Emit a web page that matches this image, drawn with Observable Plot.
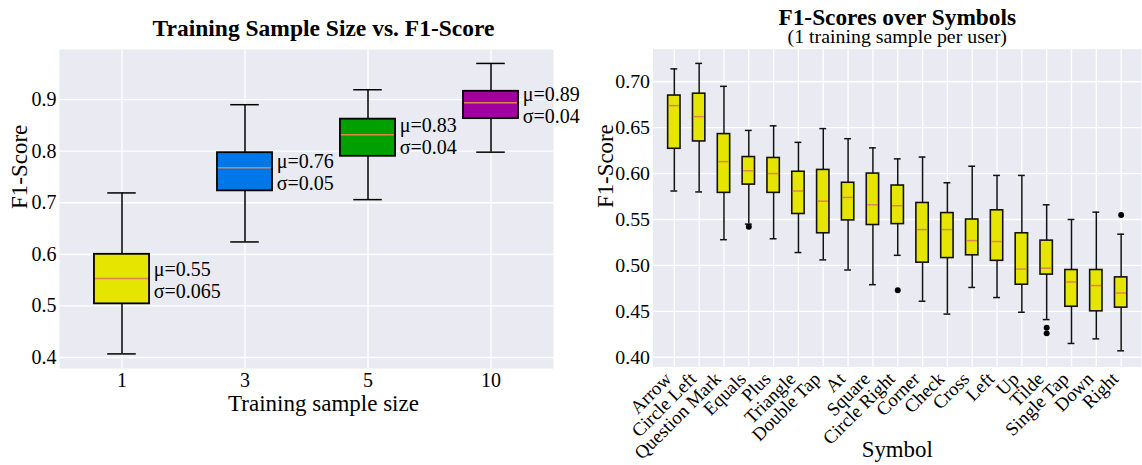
<!DOCTYPE html>
<html><head><meta charset="utf-8">
<script src="https://cdn.jsdelivr.net/npm/d3@7"></script>
<script src="https://cdn.jsdelivr.net/npm/@observablehq/plot@0.6"></script>
<style>
html,body{margin:0;padding:0;background:#fff;overflow:hidden;width:1142px;height:465px;}
#left{position:absolute;left:0;top:0;}
#right{position:absolute;left:580px;top:0;}
svg{overflow:visible;}
</style></head><body>
<div id="left"></div><div id="right"></div>
<script>
// ---------- Left chart data ----------
const sizes = ["1", "3", "5", "10"];
const sizeLow  = [0.407, 0.624, 0.706, 0.798];
const sizeQ1   = [0.504, 0.723, 0.790, 0.863];
const sizeMed  = [0.553, 0.768, 0.832, 0.894];
const sizeQ3   = [0.600, 0.797, 0.862, 0.916];
const sizeHigh = [0.719, 0.890, 0.919, 0.970];
const sizeMean = [0.55, 0.76, 0.83, 0.89];
const sizeStd  = [0.065, 0.05, 0.04, 0.04];
const sizeColors = ["#e5e500", "#0077e6", "#00a000", "#a000a0"];
const leftYTicks = [0.4, 0.5, 0.6, 0.7, 0.8, 0.9];

// ---------- Right chart data ----------
const symbols = ["Arrow", "Circle Left", "Question Mark", "Equals", "Plus", "Triangle", "Double Tap", "At", "Square", "Circle Right", "Corner", "Check", "Cross", "Left", "Up", "Tilde", "Single Tap", "Down", "Right"];
const symLow  = [0.581, 0.580, 0.528, 0.545, 0.529, 0.514, 0.506, 0.495, 0.479, 0.511, 0.461, 0.447, 0.476, 0.465, 0.449, 0.441, 0.415, 0.420, 0.407];
const symQ1   = [0.627, 0.635, 0.579, 0.588, 0.579, 0.556, 0.535, 0.549, 0.544, 0.545, 0.503, 0.508, 0.511, 0.505, 0.479, 0.490, 0.455, 0.450, 0.454];
const symMed  = [0.674, 0.662, 0.613, 0.603, 0.600, 0.581, 0.570, 0.574, 0.566, 0.565, 0.539, 0.539, 0.527, 0.526, 0.496, 0.497, 0.482, 0.478, 0.470];
const symQ3   = [0.685, 0.687, 0.643, 0.618, 0.617, 0.602, 0.604, 0.590, 0.600, 0.587, 0.568, 0.557, 0.550, 0.560, 0.535, 0.527, 0.495, 0.495, 0.487];
const symHigh = [0.714, 0.720, 0.695, 0.647, 0.652, 0.634, 0.649, 0.638, 0.628, 0.616, 0.618, 0.590, 0.608, 0.598, 0.598, 0.566, 0.550, 0.558, 0.534];
const outlierSymbols = ["Equals", "Circle Right", "Tilde", "Tilde", "Right"];
const outlierValues  = [0.542, 0.473, 0.432, 0.426, 0.555];
const rightYTicks = [0.40, 0.45, 0.50, 0.55, 0.60, 0.65, 0.70];

// ---------- Styling ----------
const FONT = '"Liberation Serif", "Times New Roman", Times, serif';
const BG = "#eaeaf2";
const MEDIAN = "#dd8452";
const GRID = {stroke: "white", strokeOpacity: 1, strokeWidth: 1.3};

// ---------- Left chart ----------
const sizeData = sizes.map((s, i) => ({
  size: s, low: sizeLow[i], q1: sizeQ1[i], med: sizeMed[i], q3: sizeQ3[i], high: sizeHigh[i],
  mean: sizeMean[i], std: sizeStd[i], color: sizeColors[i]
}));
const LW = 580, LH = 465, LM = {top: 49, right: 27, bottom: 97, left: 59};
const lBand = (LW - LM.left - LM.right) / sizes.length;
const lBoxInset = lBand * (1 - 0.45) / 2;
const lCapInset = lBand * (1 - 0.235) / 2;

const left = Plot.plot({
  width: LW, height: LH,
  marginTop: LM.top, marginRight: LM.right, marginBottom: LM.bottom, marginLeft: LM.left,
  style: {fontFamily: FONT, background: "transparent", color: "#000"},
  x: {type: "band", domain: sizes, padding: 0},
  y: {domain: [0.3787, 0.997]},
  color: {type: "identity"},
  marks: [
    Plot.frame({fill: BG, stroke: null}),
    Plot.gridY(leftYTicks, GRID),
    Plot.gridX(sizes, GRID),
    Plot.axisY(leftYTicks, {tickSize: 0, tickPadding: 3, fontSize: 20, tickFormat: d3.format(".1f"), label: null}),
    Plot.axisX({tickSize: 0, tickPadding: 4, fontSize: 20, label: null}),
    Plot.ruleX(sizeData, {x: "size", y1: "low", y2: "high", stroke: "black", strokeWidth: 1.5}),
    Plot.tickY(sizeData, {x: "size", y: "low", stroke: "black", strokeWidth: 1.5, insetLeft: lCapInset, insetRight: lCapInset}),
    Plot.tickY(sizeData, {x: "size", y: "high", stroke: "black", strokeWidth: 1.5, insetLeft: lCapInset, insetRight: lCapInset}),
    Plot.barY(sizeData, {x: "size", y1: "q1", y2: "q3", fill: "color", stroke: "black", strokeWidth: 1.8, insetLeft: lBoxInset, insetRight: lBoxInset}),
    Plot.tickY(sizeData, {x: "size", y: "med", stroke: MEDIAN, strokeWidth: 1.5, insetLeft: lBoxInset + 1, insetRight: lBoxInset + 1}),
    Plot.text(sizeData, {x: "size", y: "mean", text: d => `μ=${d.mean}\nσ=${d.std}`, textAnchor: "start", lineAnchor: "middle",
      dx: lBand / 2 - lBoxInset + 4, fontSize: 20, lineHeight: 1.09, fill: "black"}),
    Plot.text(["Training Sample Size vs. F1-Score"], {text: d => d, frameAnchor: "top", dy: -21, dx: 17, fontSize: 23.5, fontWeight: "bold", lineAnchor: "middle"}),
    Plot.text(["Training sample size"], {text: d => d, frameAnchor: "bottom", dy: 35, dx: 17, fontSize: 23, lineAnchor: "middle"}),
    Plot.text(["F1-Score"], {text: d => d, frameAnchor: "left", dx: -40, rotate: -90, fontSize: 23, lineAnchor: "middle"})
  ]
});
document.getElementById("left").append(left);

// ---------- Right chart ----------
const symData = symbols.map((s, i) => ({
  symbol: s, low: symLow[i], q1: symQ1[i], med: symMed[i], q3: symQ3[i], high: symHigh[i]
}));
const outliers = outlierSymbols.map((s, i) => ({symbol: s, value: outlierValues[i]}));
const RW = 566, RH = 465, RM = {top: 49, right: 1, bottom: 96, left: 73};
const rBand = (RW - RM.left - RM.right) / symbols.length;
const rBoxInset = rBand * (1 - 0.515) / 2;
const rCapInset = rBand * (1 - 0.3) / 2;

const right = Plot.plot({
  width: RW, height: RH,
  marginTop: RM.top, marginRight: RM.right, marginBottom: RM.bottom, marginLeft: RM.left,
  style: {fontFamily: FONT, background: "transparent", color: "#000"},
  x: {type: "band", domain: symbols, padding: 0},
  y: {domain: [0.3895, 0.7355]},
  marks: [
    Plot.frame({fill: BG, stroke: null}),
    Plot.gridY(rightYTicks, GRID),
    Plot.gridX(symbols, GRID),
    Plot.axisY(rightYTicks, {tickSize: 0, tickPadding: 3, fontSize: 20, tickFormat: d3.format(".2f"), label: null}),
    Plot.axisX({tickSize: 0, tickPadding: 4, tickRotate: -45, fontSize: 19, dx: -6, dy: 5, label: null}),
    Plot.ruleX(symData, {x: "symbol", y1: "low", y2: "high", stroke: "#111", strokeWidth: 1.5}),
    Plot.tickY(symData, {x: "symbol", y: "low", stroke: "#111", strokeWidth: 1.5, insetLeft: rCapInset, insetRight: rCapInset}),
    Plot.tickY(symData, {x: "symbol", y: "high", stroke: "#111", strokeWidth: 1.5, insetLeft: rCapInset, insetRight: rCapInset}),
    Plot.barY(symData, {x: "symbol", y1: "q1", y2: "q3", fill: "#e5e500", stroke: "#111", strokeWidth: 1.6, insetLeft: rBoxInset, insetRight: rBoxInset}),
    Plot.tickY(symData, {x: "symbol", y: "med", stroke: MEDIAN, strokeWidth: 1.5, insetLeft: rBoxInset + 1, insetRight: rBoxInset + 1}),
    Plot.dot(outliers, {x: "symbol", y: "value", r: 3, fill: "black", stroke: null}),
    Plot.text(["F1-Scores over Symbols"], {text: d => d, frameAnchor: "top", dy: -32, fontSize: 23.5, fontWeight: "bold", lineAnchor: "middle"}),
    Plot.text(["(1 training sample per user)"], {text: d => d, frameAnchor: "top", dy: -13, fontSize: 20, lineAnchor: "middle"}),
    Plot.text(["Symbol"], {text: d => d, frameAnchor: "bottom", dy: 83, fontSize: 23, lineAnchor: "middle"}),
    Plot.text(["F1-Score"], {text: d => d, frameAnchor: "left", dx: -48, rotate: -90, fontSize: 23, lineAnchor: "middle"})
  ]
});
document.getElementById("right").append(right);
</script>
</body></html>
